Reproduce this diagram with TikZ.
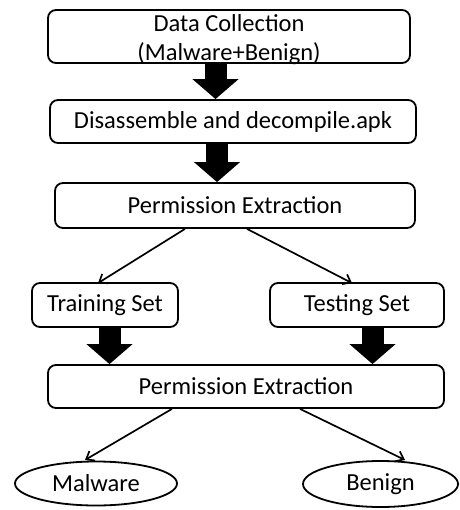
\documentclass[tikz,border=0pt]{standalone}
\usepackage{fontspec}
\setmainfont{Carlito}
\usetikzlibrary{arrows.meta,shapes.geometric}
\begin{document}
\begin{tikzpicture}[x=1pt,y=-1pt,
  every node/.style={font=\fontsize{24.5}{30}\selectfont, text=black},
  box/.style={draw, line width=1.8pt, rounded corners=8pt, inner sep=0pt, align=center},
  oval/.style={draw, ellipse, line width=1.8pt, inner sep=0pt},
  blockarrow/.style={draw=black, line width=22pt, line cap=butt, -{Triangle[width=45pt,length=20pt]}},
  thinarrow/.style={line width=1.7pt, -{Straight Barb[length=7pt,width=11pt]}}]
\useasboundingbox (0,0) rectangle (459,510);
\fill[white] (0,0) rectangle (459,510);

\node[box, minimum width=362pt, minimum height=53pt] (b1) at (229,36.5) {};
\node (t1a) at (229,23.5) {Data Collection};
\node (t1b) at (229,54) {(Malware+Benign)};
\node[box, minimum width=366pt, minimum height=43pt] (b2) at (233,121.5) {Disassemble and decompile.apk};
\node[box, minimum width=360pt, minimum height=45pt] (b3) at (235,205.5) {Permission Extraction};
\node[box, minimum width=146pt, minimum height=44pt] (tr) at (105,305) {Training Set};
\node[box, minimum width=174pt, minimum height=44pt] (te) at (357,305) {Testing Set};
\node[box, minimum width=396pt, minimum height=43pt] (b4) at (246,386.5) {Permission Extraction};
\node[oval, minimum width=162pt, minimum height=44pt] (mal) at (96,483.5) {Malware};
\node[oval, minimum width=155pt, minimum height=46pt] (ben) at (380.5,484) {Benign};

\coordinate (x1) at (215.5,0);
\coordinate (x2) at (217,0);
\coordinate (x3) at (109.5,0);
\coordinate (x4) at (372.5,0);
\draw[blockarrow] ([yshift=1pt]x1 |- b1.south) -- (x1 |- b2.north);
\draw[blockarrow] ([yshift=1pt]x2 |- b2.south) -- (x2 |- b3.north);
\draw[blockarrow] ([yshift=1pt]x3 |- tr.south) -- (x3 |- b4.north);
\draw[blockarrow] ([yshift=1pt]x4 |- te.south) -- (x4 |- b4.north);

\coordinate (s1) at (185,0);
\coordinate (s2) at (247,0);
\coordinate (e1) at (98,0);
\coordinate (e2) at (352,0);
\draw[thinarrow] (s1 |- b3.south) -- ([yshift=-1pt]e1 |- tr.north);
\draw[thinarrow] (s2 |- b3.south) -- ([yshift=-1pt]e2 |- te.north);

\coordinate (s3) at (172,0);
\coordinate (s4) at (300,0);
\coordinate (e3) at (85,0);
\coordinate (e4) at (405,0);
\draw[thinarrow] (s3 |- b4.south) -- (e3 |- 0,460);
\draw[thinarrow] (s4 |- b4.south) -- (e4 |- 0,460);
\end{tikzpicture}
\end{document}
